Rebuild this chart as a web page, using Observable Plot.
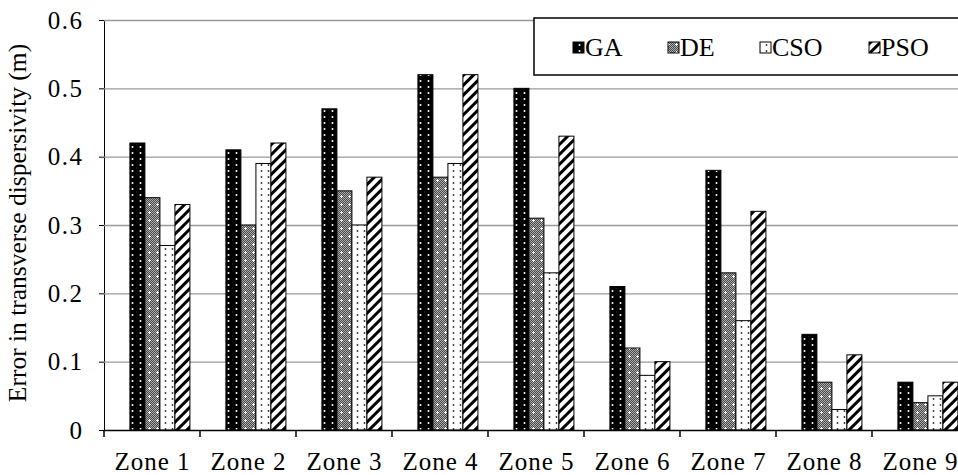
<!DOCTYPE html>
<html>
<head>
<meta charset="utf-8">
<script src="https://cdn.jsdelivr.net/npm/d3@7"></script>
<script src="https://cdn.jsdelivr.net/npm/@observablehq/plot@0.6"></script>
<style>
  html, body { margin: 0; padding: 0; background: #fff; }
  #wrap { position: relative; width: 958px; height: 475px; overflow: hidden; }
  #ytitle {
    position: absolute; left: 18px; top: 223px;
    transform: translate(-50%, -50%) rotate(-90deg);
    white-space: nowrap;
    font-family: "Liberation Serif", "Times New Roman", serif;
    font-size: 25.5px; color: #000; line-height: 1;
  }
</style>
</head>
<body>
<div id="wrap">
  <div id="chart"></div>
  <div id="ytitle">Error in transverse dispersivity (m)</div>
</div>
<script>
// ---- data ----
const zones = ["Zone 1", "Zone 2", "Zone 3", "Zone 4", "Zone 5", "Zone 6", "Zone 7", "Zone 8", "Zone 9"];
const seriesNames = ["GA", "DE", "CSO", "PSO"];
const GA  = [0.42, 0.41, 0.47, 0.52, 0.50, 0.21, 0.38, 0.14, 0.07];
const DE  = [0.34, 0.30, 0.35, 0.37, 0.31, 0.12, 0.23, 0.07, 0.04];
const CSO = [0.27, 0.39, 0.30, 0.39, 0.23, 0.08, 0.16, 0.03, 0.05];
const PSO = [0.33, 0.42, 0.37, 0.52, 0.43, 0.10, 0.32, 0.11, 0.07];
const yTicks = [0, 0.1, 0.2, 0.3, 0.4, 0.5, 0.6];
const yTickLabels = ["0", "0.1", "0.2", "0.3", "0.4", "0.5", "0.6"];

const valuesBySeries = { GA, DE, CSO, PSO };
const rows = zones.flatMap((z, i) => seriesNames.map(s => ({ zone: z, series: s, value: valuesBySeries[s][i] })));

const serif = '"Liberation Serif", "Times New Roman", serif';

const plot = Plot.plot({
  width: 958,
  height: 475,
  marginLeft: 103,
  marginRight: -10,
  marginTop: 20,
  marginBottom: 45,
  style: { fontFamily: serif, fontSize: "25px", color: "#000", background: "#fff" },
  fx: { domain: zones, padding: 0, label: null, axis: "bottom", tickSize: 0, tickPadding: 22 },
  x: { domain: seriesNames, paddingInner: 0, paddingOuter: 1.2, align: 0.72, round: false, axis: null },
  y: {
    domain: [0, 0.6], ticks: yTicks,
    tickFormat: d => yTickLabels[yTicks.indexOf(d)] ?? String(d),
    tickSize: 5, tickPadding: 16, label: null, line: true
  },
  color: { domain: seriesNames, range: seriesNames.map(s => `url(#p${s})`) },
  marks: [
    Plot.ruleY(yTicks.filter(d => d > 0), { stroke: "#9a9a9a", strokeWidth: 1.3 }),
    Plot.barY(rows, { fx: "zone", x: "series", y: "value", fill: "series", stroke: "#000", strokeWidth: 1 }),
    Plot.ruleY([0], { stroke: "#000", strokeWidth: 1.5 })
  ]
});
document.getElementById("chart").appendChild(plot);

const svg = d3.select(plot.tagName.toLowerCase() === "svg" ? plot : plot.querySelector("svg"));

// axis text: serif, larger, slightly wider spacing like the reference
svg.selectAll("text").style("font-family", serif).style("font-size", "25px").attr("fill", "#000");
svg.selectAll("text").filter(function () { return yTickLabels.includes(this.textContent); })
  .style("letter-spacing", "1.5px");
svg.selectAll("text").filter(function () { return zones.includes(this.textContent); })
  .style("letter-spacing", "1px");

// ---- patterns ----
const defs = svg.insert("defs", ":first-child");
{
  const p = defs.append("pattern").attr("id", "pGA").attr("patternUnits", "userSpaceOnUse").attr("width", 8).attr("height", 6);
  p.append("rect").attr("width", 8).attr("height", 6).attr("fill", "#000");
  p.append("circle").attr("cx", 3.5).attr("cy", 3).attr("r", 1).attr("fill", "#fff");
}
{
  const p = defs.append("pattern").attr("id", "pDE").attr("patternUnits", "userSpaceOnUse").attr("width", 8).attr("height", 8);
  p.append("rect").attr("width", 8).attr("height", 8).attr("fill", "#ababab");
  for (let i = 0; i < 8; i++) for (let j = 0; j < 8; j++) if ((i + j) % 2 === 0)
    p.append("rect").attr("x", i).attr("y", j).attr("width", 1).attr("height", 1).attr("fill", "#4a4a4a");
  p.append("rect").attr("x", 3).attr("y", 4).attr("width", 3).attr("height", 1).attr("fill", "#fff");
  p.append("rect").attr("x", 4).attr("y", 3).attr("width", 1).attr("height", 3).attr("fill", "#fff");
}
{
  const p = defs.append("pattern").attr("id", "pCSO").attr("patternUnits", "userSpaceOnUse").attr("width", 7).attr("height", 6);
  p.append("rect").attr("width", 7).attr("height", 6).attr("fill", "#fff");
  p.append("circle").attr("cx", 3.5).attr("cy", 3).attr("r", 0.9).attr("fill", "#333");
}
{
  const p = defs.append("pattern").attr("id", "pPSO").attr("patternUnits", "userSpaceOnUse").attr("width", 7).attr("height", 7)
    .attr("patternTransform", "rotate(45)");
  p.append("rect").attr("width", 7).attr("height", 7).attr("fill", "#fff");
  p.append("rect").attr("width", 3).attr("height", 7).attr("fill", "#000");
}

// ---- category boundary ticks on the x axis ----
const fxs = plot.scale("fx");
const ys = plot.scale("y");
const y0 = ys.apply(0);
svg.append("g").selectAll("line").data(zones).join("line")
  .attr("x1", d => fxs.apply(d)).attr("x2", d => fxs.apply(d))
  .attr("y1", y0).attr("y2", y0 + 7)
  .attr("stroke", "#000").attr("stroke-width", 1.5);

// ---- legend box ----
const lg = svg.append("g");
lg.append("rect").attr("x", 534).attr("y", 18).attr("width", 440).attr("height", 57)
  .attr("fill", "#fff").attr("stroke", "#000").attr("stroke-width", 1.5);
const legendX = [573, 668, 760, 869];
seriesNames.forEach((s, i) => {
  lg.append("rect").attr("x", legendX[i]).attr("y", 42).attr("width", 11).attr("height", 11)
    .attr("fill", `url(#p${s})`).attr("stroke", "#000").attr("stroke-width", 1);
  lg.append("text").attr("x", legendX[i] + 12).attr("y", 56)
    .attr("text-anchor", "start")
    .style("font-family", serif).style("font-size", "26px").attr("fill", "#000").text(s);
});
</script>
</body>
</html>
